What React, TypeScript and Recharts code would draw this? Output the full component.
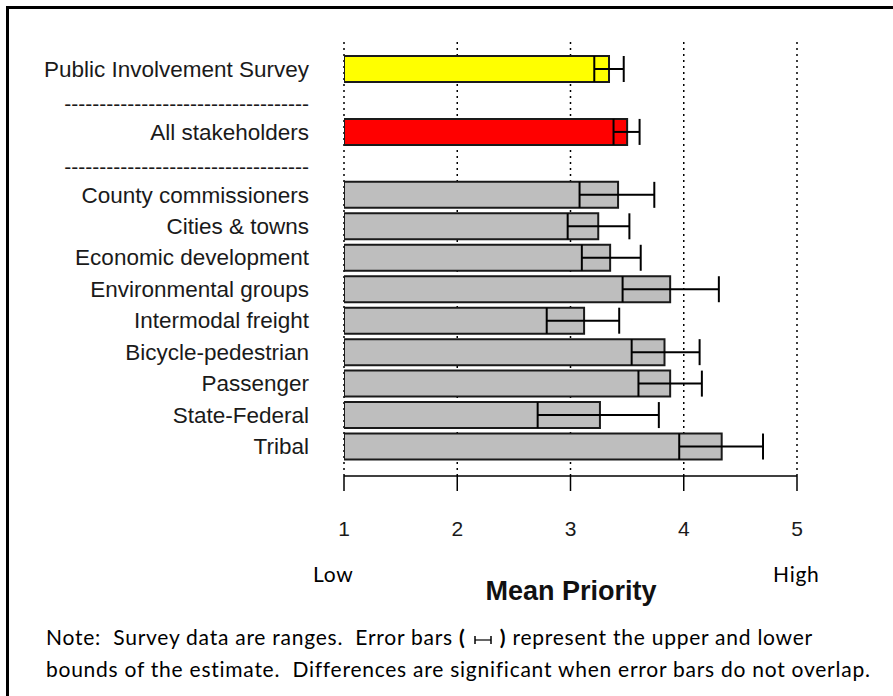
import React from 'react';
import { BarChart, Bar, XAxis, YAxis, CartesianGrid, ErrorBar, Cell } from 'recharts';

// Rows top to bottom; "sep" rows are the dashed divider lines in the label column
const categories = [
  'Public Involvement Survey',
  'sep1',
  'All stakeholders',
  'sep2',
  'County commissioners',
  'Cities & towns',
  'Economic development',
  'Environmental groups',
  'Intermodal freight',
  'Bicycle-pedestrian',
  'Passenger',
  'State-Federal',
  'Tribal',
];
const means = [3.34, null, 3.5, null, 3.42, 3.245, 3.35, 3.88, 3.12, 3.83, 3.88, 3.26, 4.335];
const lower = [3.21, null, 3.38, null, 3.08, 2.975, 3.1, 3.46, 2.79, 3.54, 3.6, 2.71, 3.96];
const upper = [3.47, null, 3.61, null, 3.74, 3.52, 3.62, 4.31, 3.43, 4.14, 4.16, 3.78, 4.7];
const barColors = ['#FFFF00', null, '#FF0000', null, '#BEBEBE', '#BEBEBE', '#BEBEBE', '#BEBEBE', '#BEBEBE', '#BEBEBE', '#BEBEBE', '#BEBEBE', '#BEBEBE'];
const xTicks = [1, 2, 3, 4, 5];

const rows = categories.map((name, i) => ({
  name,
  mean: means[i],
  err: means[i] == null ? undefined : [means[i]! - lower[i]!, upper[i]! - means[i]!],
}));

const SEP = '-----------------------------------';

const LabelTick = (props: any) => {
  const { x, y, payload } = props;
  const isSep = String(payload.value).startsWith('sep');
  return (
    <text x={x} y={isSep ? y + 3 : y} dy="0.355em" textAnchor="end" fontSize={isSep ? 21 : 22.5}
      fontFamily="'Liberation Sans', Arial, sans-serif" fill="#1a1a1a">
      {isSep ? SEP : payload.value}
    </text>
  );
};

const noteFont = { fontFamily: 'Lato, sans-serif', fontSize: 21, letterSpacing: '0.75px', color: '#000' };

export default function App() {
  return (
    <div style={{ position: 'absolute', left: 0, top: 0, width: 893, height: 696, background: '#fff', overflow: 'hidden' }}>
      {/* frame */}
      <div style={{ position: 'absolute', left: 6, top: 6, width: 900, height: 700, borderTop: '3px solid #000', borderLeft: '3px solid #000' }} />

      <BarChart width={893} height={560} data={rows} layout="vertical"
        margin={{ top: 42, right: 96, bottom: 0, left: 0 }}>
        <CartesianGrid horizontal={false} stroke="#000" strokeWidth={1.5} strokeDasharray="2 4" />
        <XAxis type="number" domain={[1, 5]} ticks={xTicks} allowDataOverflow
          height={84} stroke="#000" strokeWidth={1.5} tickSize={15} tickMargin={30}
          tick={{ fontSize: 21, fill: '#1a1a1a', fontFamily: "'Liberation Sans', Arial, sans-serif" }} />
        <YAxis type="category" dataKey="name" width={344} axisLine={false} tickLine={false}
          tickSize={0} tickMargin={35} interval={0} padding={{ top: 11, bottom: 14 }} tick={<LabelTick />} />
        <Bar dataKey="mean" barSize={26} stroke="#1a1a1a" strokeWidth={2} isAnimationActive={false}>
          {rows.map((r, i) => (
            <Cell key={`cell-${i}`} fill={barColors[i] || 'none'} />
          ))}
          <ErrorBar dataKey="err" direction="x" width={13} stroke="#000" strokeWidth={2} />
        </Bar>
      </BarChart>

      {/* axis end notes */}
      <div style={{ ...noteFont, position: 'absolute', left: 313, top: 561 }}>Low</div>
      <div style={{ ...noteFont, position: 'absolute', left: 773, top: 561 }}>High</div>
      <div style={{ position: 'absolute', left: 371, width: 400, textAlign: 'center', top: 576, fontFamily: "'Liberation Sans', Arial, sans-serif", fontWeight: 'bold', fontSize: 27, color: '#111' }}>Mean Priority</div>

      {/* note */}
      <div style={{ ...noteFont, position: 'absolute', left: 46, top: 621, lineHeight: '32px', whiteSpace: 'nowrap' }}>
        <div>
          Note:&nbsp; Survey data are ranges.&nbsp; Error bars <b>(</b>{' '}
          <svg width="22" height="12" style={{ verticalAlign: 'middle' }}>
            <line x1="3" y1="2" x2="3" y2="10" stroke="#000" strokeWidth="1.5" />
            <line x1="3" y1="6" x2="19" y2="6" stroke="#000" strokeWidth="1.2" />
            <line x1="19" y1="2" x2="19" y2="10" stroke="#000" strokeWidth="1.5" />
          </svg>{' '}
          <b>)</b> represent the upper and lower
        </div>
        <div>bounds of the estimate.&nbsp; Differences are significant when error bars do not overlap.</div>
      </div>
    </div>
  );
}
